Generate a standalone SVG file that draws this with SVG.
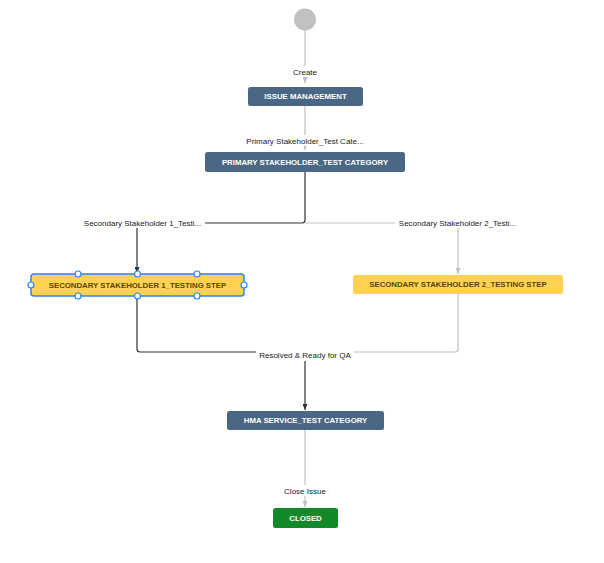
<svg xmlns="http://www.w3.org/2000/svg" width="604" height="563" viewBox="0 0 604 563">
<defs>
<style>
.bg{fill:#ffffff}
.lg{fill:none;stroke:#c1c1c1;stroke-width:1.2}
.ld{fill:none;stroke:#333333;stroke-width:1.2}
.lbl{font-family:"Liberation Sans",Arial,sans-serif;font-size:8px;fill:#222222;text-anchor:middle;dominant-baseline:central}
.lblbg{fill:#ffffff}
.nb{fill:#4a6785}
.ny{fill:#ffd351}
.ng{fill:#14892c}
.tw{font-family:"Liberation Sans",Arial,sans-serif;font-size:7.8px;font-weight:bold;fill:#ffffff;text-anchor:middle;dominant-baseline:central}
.ty{font-family:"Liberation Sans",Arial,sans-serif;font-size:7.8px;font-weight:bold;fill:#594300;text-anchor:middle;dominant-baseline:central}
.h{fill:#ffffff;stroke:#2684ff;stroke-width:1.2}
</style>
<marker id="ag" markerWidth="6" markerHeight="5" refX="6" refY="2.5" orient="auto" markerUnits="userSpaceOnUse"><path d="M0,0 L6,2.5 L0,5 Z" fill="#c1c1c1"/></marker>
<marker id="ad" markerWidth="6" markerHeight="5" refX="6" refY="2.5" orient="auto" markerUnits="userSpaceOnUse"><path d="M0,0 L6,2.5 L0,5 Z" fill="#333333"/></marker>
</defs>
<rect class="bg" x="0" y="0" width="604" height="563"/>
<g id="connectors">
<path class="lg" d="M305,30 L305,83" marker-end="url(#ag)"/>
<path class="lg" d="M305,106 L305,150" marker-end="url(#ag)"/>
<path class="ld" d="M305,172 L305,220 Q305,223 302,223 L140,223 Q137,223 137,226 L137,273" marker-end="url(#ad)"/>
<path class="lg" d="M305,223 L455,223 Q458,223 458,226 L458,274" marker-end="url(#ag)"/>
<path class="ld" d="M137,296 L137,349 Q137,352 140,352 L305,352"/>
<path class="lg" d="M458,294 L458,349 Q458,352 455,352 L305,352"/>
<path class="ld" d="M305,352 L305,410" marker-end="url(#ad)"/>
<path class="lg" d="M305,430 L305,507" marker-end="url(#ag)"/>
<rect class="lblbg" x="291" y="66" width="28" height="11"/>
<text class="lbl" x="305" y="72">Create</text>
<rect class="lblbg" x="242" y="135" width="126" height="11"/>
<text class="lbl" x="305" y="141">Primary Stakeholder_Test Cate...</text>
<rect class="lblbg" x="80" y="217" width="125" height="11"/>
<text class="lbl" x="142.5" y="223">Secondary Stakeholder 1_Testi...</text>
<rect class="lblbg" x="395" y="217" width="125" height="11"/>
<text class="lbl" x="457.5" y="223">Secondary Stakeholder 2_Testi...</text>
<rect class="lblbg" x="256" y="349" width="98" height="12"/>
<text class="lbl" x="305" y="355">Resolved &amp; Ready for QA</text>
<rect class="lblbg" x="281" y="485" width="48" height="11"/>
<text class="lbl" x="305" y="491">Close Issue</text>
</g>
<g id="start"><circle cx="305" cy="19.5" r="11" fill="#c1c1c1"/></g>
<g id="issue-management"><rect class="nb" x="248" y="87" width="115" height="19" rx="2.5"/><text class="tw" x="305.5" y="96.5">ISSUE MANAGEMENT</text></g>
<g id="primary-stakeholder"><rect class="nb" x="205" y="152" width="200" height="20" rx="2.5"/><text class="tw" x="305" y="162">PRIMARY STAKEHOLDER_TEST CATEGORY</text></g>
<g id="secondary-1">
<rect class="ny" x="31" y="274" width="213" height="22" rx="3" stroke="#2684ff" stroke-width="1.5"/>
<text class="ty" x="137.5" y="285">SECONDARY STAKEHOLDER 1_TESTING STEP</text>
<circle class="h" cx="78" cy="274" r="3"/><circle class="h" cx="137.5" cy="274" r="3"/><circle class="h" cx="197" cy="274" r="3"/>
<circle class="h" cx="78" cy="296" r="3"/><circle class="h" cx="137.5" cy="296" r="3"/><circle class="h" cx="197" cy="296" r="3"/>
<circle class="h" cx="31" cy="285" r="3"/><circle class="h" cx="244" cy="285" r="3"/>
</g>
<g id="secondary-2"><rect class="ny" x="353" y="275" width="210" height="19" rx="2.5"/><text class="ty" x="458" y="284.5">SECONDARY STAKEHOLDER 2_TESTING STEP</text></g>
<g id="hma-service"><rect class="nb" x="227" y="411" width="157" height="19" rx="2.5"/><text class="tw" x="305.5" y="420.5">HMA SERVICE_TEST CATEGORY</text></g>
<g id="closed"><rect class="ng" x="273" y="508" width="65" height="20" rx="2.5"/><text class="tw" x="305.5" y="518">CLOSED</text></g>
</svg>
